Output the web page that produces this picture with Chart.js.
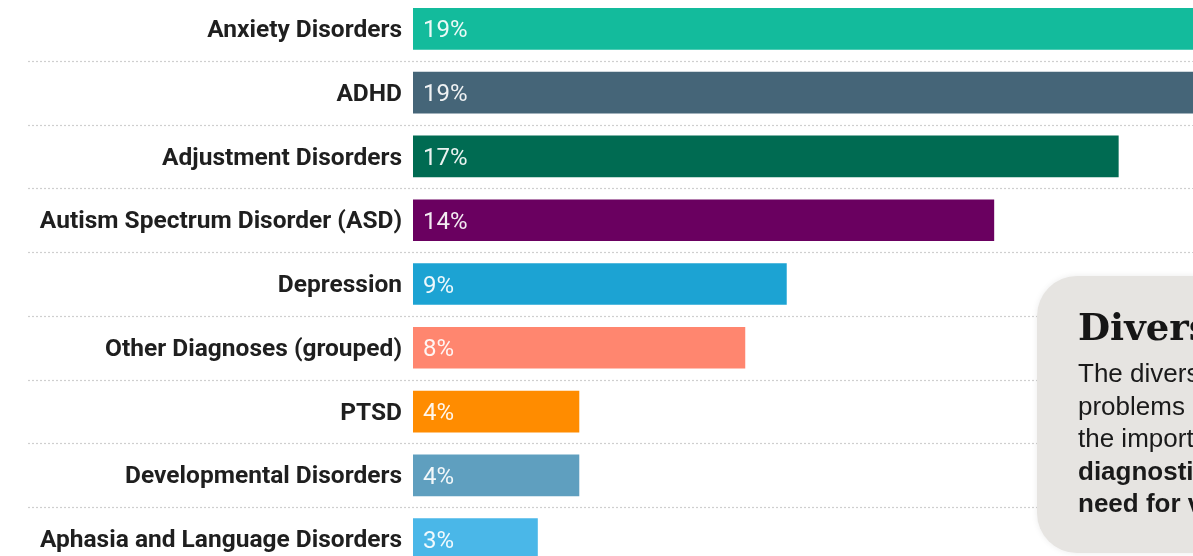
<!DOCTYPE html>
<html>
<head>
<meta charset="utf-8">
<script src="https://cdn.jsdelivr.net/npm/chart.js@4/dist/chart.umd.min.js"></script>
<style>
  html, body { margin: 0; padding: 0; background: #ffffff; overflow: hidden; }
  #wrap { position: absolute; left: 0; top: -3px; width: 1193px; height: 574px; }
  #box {
    position: absolute; left: 1037px; top: 276px; width: 260px; height: 277px;
    background: #e6e4e1; border-radius: 40px;
    box-shadow: 0 0 6px rgba(0,0,0,0.08);
    overflow: hidden; white-space: nowrap;
  }
  #box h2 {
    margin: 0; position: absolute; left: 41px; top: 33px;
    font-family: "DejaVu Serif", "Liberation Serif", serif; font-weight: bold;
    font-size: 37px; line-height: 1; color: #161616;
  }
  #box .t {
    position: absolute; left: 41px; top: 81px;
    font-family: "Liberation Sans", Arial, sans-serif; font-size: 26px;
    line-height: 32.5px; color: #1a1a1a;
  }
  #box .t b { font-weight: bold; }
</style>
</head>
<body>
<div id="wrap"><canvas id="c"></canvas></div>
<div id="box">
  <h2>Diversity of Diagnoses</h2>
  <div class="t">The diversity of mental health<br>problems highlights<br>the importance of accurate<br><b>diagnostic assessment and the</b><br><b>need for varied treatment</b></div>
</div>
<script>
const categories = [
  "Anxiety Disorders",
  "ADHD",
  "Adjustment Disorders",
  "Autism Spectrum Disorder (ASD)",
  "Depression",
  "Other Diagnoses (grouped)",
  "PTSD",
  "Developmental Disorders",
  "Aphasia and Language Disorders"
];
const shares = [19, 19, 17, 14, 9, 8, 4, 4, 3];
const valueLabels = ["19%", "19%", "17%", "14%", "9%", "8%", "4%", "4%", "3%"];
const barColors = ["#13bb9c", "#456578", "#006b52", "#6a0060", "#1ca3d3", "#ff866f", "#ff8c00", "#5f9fbf", "#4ab7e8"];

const separators = {
  id: "separators",
  beforeDatasetsDraw(chart) {
    const ctx = chart.ctx, y = chart.scales.y;
    ctx.save();
    ctx.strokeStyle = "#cfcfcf";
    ctx.lineWidth = 1.2;
    ctx.setLineDash([2, 2]);
    for (let i = 0; i < categories.length - 1; i++) {
      const py = Math.round((y.getPixelForValue(i) + y.getPixelForValue(i + 1)) / 2) + 0.5;
      ctx.beginPath();
      ctx.moveTo(28, py);
      ctx.lineTo(chart.width, py);
      ctx.stroke();
    }
    ctx.restore();
  }
};

const inBarLabels = {
  id: "inBarLabels",
  afterDatasetsDraw(chart) {
    const ctx = chart.ctx;
    const meta = chart.getDatasetMeta(0);
    ctx.save();
    ctx.fillStyle = "rgba(255,255,255,0.92)";
    ctx.font = "400 24px Roboto, sans-serif";
    ctx.textBaseline = "middle";
    ctx.textAlign = "left";
    meta.data.forEach((bar, i) => {
      ctx.fillText(valueLabels[i], bar.base + 10, bar.y + 2.5);
    });
    ctx.restore();
  }
};

new Chart(document.getElementById("c"), {
  type: "bar",
  data: {
    labels: categories,
    datasets: [{
      data: shares,
      backgroundColor: barColors,
      borderWidth: 0,
      barThickness: 41,
      categoryPercentage: 1,
      barPercentage: 1
    }]
  },
  options: {
    indexAxis: "y",
    responsive: true,
    maintainAspectRatio: false,
    animation: false,
    layout: { padding: 0 },
    plugins: { legend: { display: false }, tooltip: { enabled: false } },
    scales: {
      x: {
        display: false,
        min: 0,
        max: 18.8
      },
      y: {
        afterFit(scale) {
          scale.width = 413;
          scale.paddingTop = 0;
          scale.paddingBottom = 0;
        },
        grid: { display: false, drawTicks: false, tickLength: 0 },
        border: { display: false },
        ticks: {
          color: "#1f1f1f",
          padding: 11,
          labelOffset: 2,
          font: { family: "Roboto", weight: "bold", size: 24.5 }
        }
      }
    }
  },
  plugins: [separators, inBarLabels]
});
</script>
</body>
</html>
